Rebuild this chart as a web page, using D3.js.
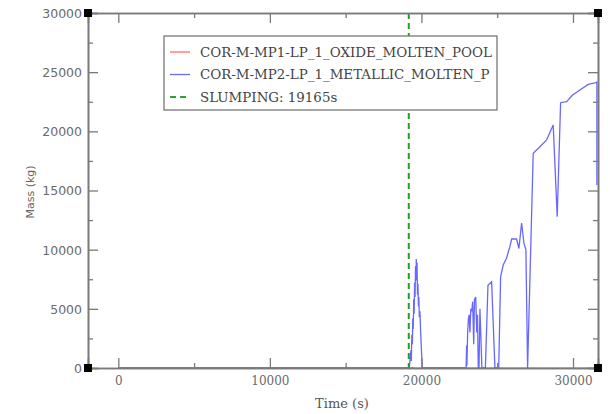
<!DOCTYPE html>
<html lang="en">
<head>
<meta charset="utf-8">
<title>Molten pool mass</title>
<script src="https://cdn.jsdelivr.net/npm/d3@7"></script>
<style>
  body { margin: 0; background: #fff; }
</style>
</head>
<body>
<script>
// ---- data ----
var slumpTime = 19165;

var seriesNames = ["COR-M-MP1-LP_1_OXIDE_MOLTEN_POOL", "COR-M-MP2-LP_1_METALLIC_MOLTEN_P", "SLUMPING: 19165s"];

var oxideTime = [0, 19300, 19400, 19500, 19600, 31577];
var oxideMass = [0, 0, 60, 0, 0, 0];

var metalTime = [0, 19200, 19260, 19300, 19330, 19370, 19400, 19430, 19460, 19490, 19520, 19550, 19580, 19610, 19640, 19660, 19690, 19710, 19740, 19770, 19800, 19830, 19860, 19900, 19950, 20000, 20060,
  22950, 22980, 23000, 23050, 23100, 23150, 23200, 23260, 23320, 23380, 23450, 23500, 23580, 23650, 23700, 23750,
  23800, 23860, 23990, 24220, 24390, 24630, 24850, 25100,
  25224, 25396, 25508, 25620, 25706, 25838, 25950, 26280, 26431, 26610, 26761, 26893, 27005,
  27375, 27817, 28259, 28694, 28958, 29182, 29578, 29974, 30455, 31003, 31445, 31577, 31577];
var metalMass = [0, 0, 800, 1500, 600, 2800, 2000, 4200, 3300, 5800, 4600, 7200, 6000, 8600, 7400, 9200, 7800, 8900, 6200, 7100, 5200, 6000, 4300, 4800, 3000, 1500, 0,
  0, 1900, 200, 3000, 4200, 4500, 3000, 5000, 4800, 5600, 2000, 5800, 6000, 3000, 4500, 0,
  0, 5000, 0, 0, 7000, 7300, 0, 0,
  7700, 8700, 9000, 9300, 9700, 10250, 10900, 10900, 10100, 12250, 10550, 10000, 0,
  18140, 18700, 19270, 20530, 12790, 22420, 22500, 23070, 23490, 23970, 24100, 24150, 15460];

var xMajor = [0, 10000, 20000, 30000];
var xMinor = [5000, 15000, 25000];
var yMajor = [0, 5000, 10000, 15000, 20000, 25000, 30000];
var yMinor = [2500, 7500, 12500, 17500, 22500, 27500];

// ---- layout ----
var W = 610, H = 414;
var pLeft = 88, pRight = 598, pTop = 13, pBottom = 368;
var axisColor = "#7a7a7a";

var x = d3.scaleLinear().domain([-2000, 31650]).range([pLeft, pRight]);
var y = d3.scaleLinear().domain([0, 30000]).range([pBottom, pTop]);

var svg = d3.select("body").append("svg")
  .attr("width", W).attr("height", H);

svg.append("clipPath").attr("id", "plot")
  .append("rect").attr("x", pLeft).attr("y", pTop)
  .attr("width", pRight - pLeft).attr("height", pBottom - pTop);

var line = d3.line().x(d => x(d[0])).y(d => y(d[1]));

var plot = svg.append("g").attr("clip-path", "url(#plot)");

plot.append("path")
  .datum(oxideTime.map((t, i) => [t, oxideMass[i]]))
  .attr("d", line)
  .attr("fill", "none").attr("stroke", "#ff5a5a").attr("stroke-width", 1.2);

plot.append("path")
  .datum(metalTime.map((t, i) => [t, metalMass[i]]))
  .attr("d", line)
  .attr("fill", "none").attr("stroke", "#4d4dff").attr("stroke-opacity", 0.85)
  .attr("stroke-width", 1.3);

plot.append("line")
  .attr("x1", x(slumpTime)).attr("x2", x(slumpTime))
  .attr("y1", pTop).attr("y2", pBottom)
  .attr("stroke", "#22a022").attr("stroke-width", 2)
  .attr("stroke-dasharray", "6,4");

// ---- axes (ticks point inward) ----
var xBottom = d3.axisBottom(x).tickValues(xMajor).tickSize(-10).tickPadding(8).tickFormat(d3.format("d"));
var xBottomMinor = d3.axisBottom(x).tickValues(xMinor).tickSize(-5).tickFormat("");
var xTop = d3.axisTop(x).tickValues(xMajor).tickSize(-10).tickFormat("");
var xTopMinor = d3.axisTop(x).tickValues(xMinor).tickSize(-5).tickFormat("");
var yLeft = d3.axisLeft(y).tickValues(yMajor).tickSize(-10).tickPadding(6).tickFormat(d3.format("d"));
var yLeftMinor = d3.axisLeft(y).tickValues(yMinor).tickSize(-5).tickFormat("");
var yRight = d3.axisRight(y).tickValues(yMajor).tickSize(-10).tickFormat("");
var yRightMinor = d3.axisRight(y).tickValues(yMinor).tickSize(-5).tickFormat("");

function draw(axis, tx, ty) {
  var g = svg.append("g").attr("transform", "translate(" + tx + "," + ty + ")").call(axis);
  g.select(".domain").attr("stroke", axisColor).attr("stroke-width", 1.6);
  g.selectAll(".tick line").attr("stroke", axisColor).attr("stroke-width", 1.3);
  g.selectAll(".tick text").attr("fill", "#6a6a6a");
  return g;
}

draw(xBottom, 0, pBottom).selectAll(".tick text")
  .attr("font-family", "DejaVu Serif").attr("font-size", 12);
draw(xBottomMinor, 0, pBottom);
draw(xTop, 0, pTop);
draw(xTopMinor, 0, pTop);
draw(yLeft, pLeft, 0).selectAll(".tick text")
  .attr("font-family", "DejaVu Sans").attr("font-size", 12.5).attr("dy", "0.35em");
draw(yLeftMinor, pLeft, 0);
draw(yRight, pRight, 0);
draw(yRightMinor, pRight, 0);

// corner markers
[[pLeft, pTop], [pRight, pTop], [pLeft, pBottom], [pRight, pBottom]].forEach(function (c) {
  svg.append("rect").attr("x", c[0] - 4).attr("y", c[1] - 4)
    .attr("width", 8).attr("height", 8).attr("fill", "#000");
});

// axis titles
svg.append("text")
  .attr("x", 342).attr("y", 408)
  .attr("text-anchor", "middle")
  .attr("font-family", "DejaVu Serif").attr("font-size", 13)
  .attr("fill", "#555").text("Time (s)");

svg.append("text")
  .attr("transform", "translate(34,192) rotate(-90)")
  .attr("text-anchor", "middle")
  .attr("font-family", "DejaVu Sans").attr("font-size", 11)
  .attr("fill", "#666").text("Mass (kg)");

// ---- legend ----
var legend = svg.append("g");
legend.append("rect")
  .attr("x", 164).attr("y", 36).attr("width", 333).attr("height", 74)
  .attr("fill", "#fff").attr("stroke", "#777").attr("stroke-width", 1.3);

var legendStyles = [
  { color: "#ff6b6b", dash: null },
  { color: "#6b6bff", dash: null },
  { color: "#33a033", dash: "6,4" }
];

seriesNames.forEach(function (name, i) {
  var ly = 52 + i * 22.5;
  legend.append("line")
    .attr("x1", 170).attr("x2", 190).attr("y1", ly).attr("y2", ly)
    .attr("stroke", legendStyles[i].color)
    .attr("stroke-width", i == 2 ? 2.2 : 1.3)
    .attr("stroke-dasharray", legendStyles[i].dash);
  legend.append("text")
    .attr("x", 200).attr("y", ly).attr("dy", "0.36em")
    .attr("font-family", "DejaVu Serif").attr("font-size", 13.4)
    .attr("fill", "#444").text(name);
});
</script>
</body>
</html>
